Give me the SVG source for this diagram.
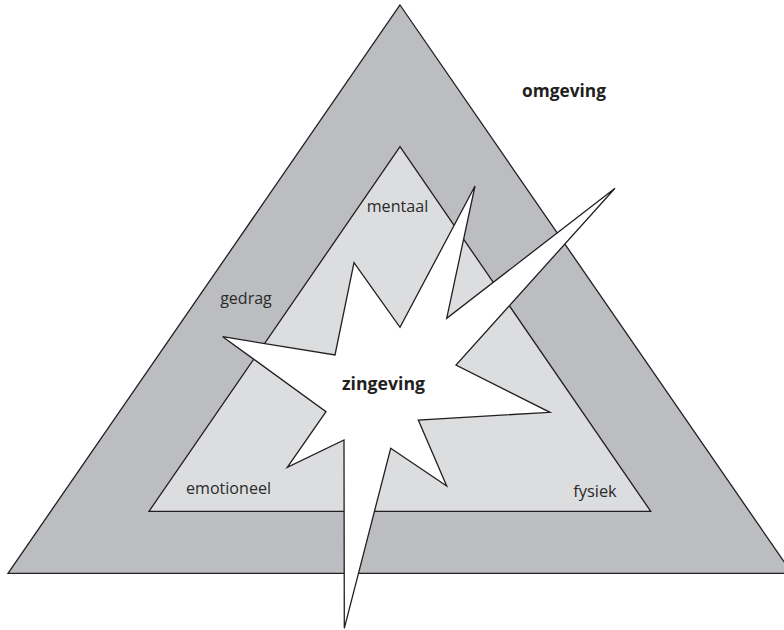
<svg xmlns="http://www.w3.org/2000/svg" width="784" height="630" viewBox="0 0 784 630">
<style>
.shape{stroke:#231f20;stroke-width:1.3;stroke-linejoin:miter}
.lbl{font-family:"Open Sans","Noto Sans","Liberation Sans",sans-serif;font-size:17px;fill:#2a2a2a;text-anchor:middle}
.bold{font-family:"Open Sans","Noto Sans","Liberation Sans",sans-serif;font-size:17px;font-weight:bold;fill:#231f20;text-anchor:middle}
</style>
<rect width="784" height="630" fill="#ffffff"/>
<g id="omgeving">
<polygon class="shape" fill="#bcbdc0" points="400,5 792,573.3 8,573.3"/>
<text class="bold" x="564" y="97" textLength="84" lengthAdjust="spacingAndGlyphs">omgeving</text>
</g>
<g id="inner">
<polygon class="shape" fill="#dcdddf" points="400,146.7 650.7,511.3 149,511.3"/>
</g>
<g id="zingeving">
<polygon class="shape" fill="#ffffff" points="354,262.7 400,327.3 475,186 446.7,318.3 615,188.3 456,365 550,412.3 418.3,420 446.7,486 390.7,448.3 344.3,628.3 344,440 287.3,467.3 326,411.7 222.7,336.7 335,355"/>
<text class="bold" x="383.5" y="390" textLength="83" lengthAdjust="spacingAndGlyphs">zingeving</text>
</g>
<g id="mentaal">
<text class="lbl" x="397.5" y="212" textLength="61.6" lengthAdjust="spacingAndGlyphs">mentaal</text>
</g>
<g id="gedrag">
<text class="lbl" x="246" y="304" textLength="51.7" lengthAdjust="spacingAndGlyphs">gedrag</text>
</g>
<g id="emotioneel">
<text class="lbl" x="228.5" y="494" textLength="85" lengthAdjust="spacingAndGlyphs">emotioneel</text>
</g>
<g id="fysiek">
<text class="lbl" x="595" y="497" textLength="43.4" lengthAdjust="spacingAndGlyphs">fysiek</text>
</g>
</svg>
